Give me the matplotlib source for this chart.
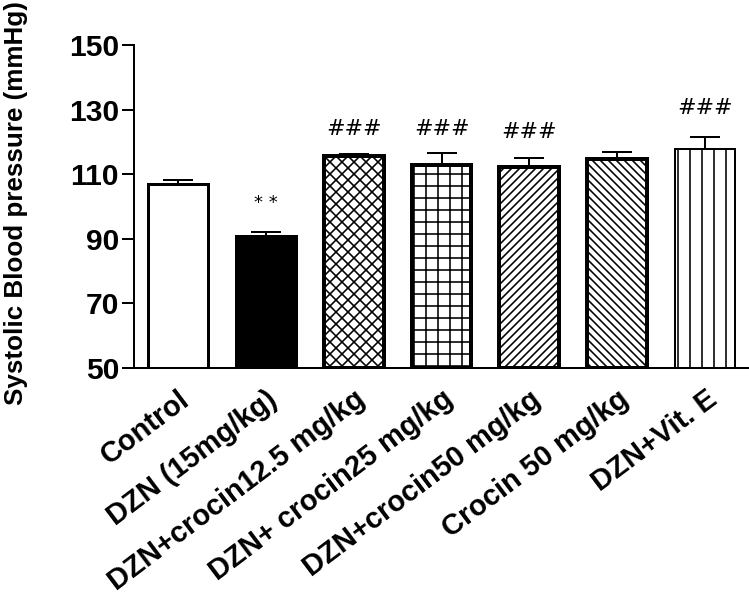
import matplotlib
matplotlib.use("Agg")
import matplotlib.pyplot as plt
import numpy as np

categories = ["Control", "DZN (15mg/kg)", "DZN+crocin12.5 mg/kg", "DZN+ crocin25 mg/kg",
              "DZN+crocin50 mg/kg", "Crocin 50 mg/kg", "DZN+Vit. E"]
means = [107.0, 90.8, 115.6, 112.8, 112.2, 114.7, 117.8]
errors = [1.2, 1.3, 0.5, 3.8, 2.8, 2.2, 3.7]
annotations = ["", "* *", "###", "###", "###", "", "###"]
annot_y = [None, 101.0, 124, 124, 123, None, 130.5]

yticks = [50, 70, 90, 110, 130, 150]

facecolors = ["white", "black", "white", "white", "white", "white", "white"]
hatches = [None, None, "xx", "+", "///", "\\\\\\", "|"]
edge_lw = [3, 3, 4, 4, 4, 4, 2]

plt.rcParams["hatch.linewidth"] = 1.6
plt.rcParams["font.family"] = ["Liberation Sans", "DejaVu Sans"]

DPI = 72
fig = plt.figure(figsize=(749 / DPI, 603 / DPI), dpi=DPI)
ax = fig.add_axes([134 / 749, 1 - 368 / 603, (749 - 134) / 749, (368 - 45) / 603])

x = np.arange(len(categories))
for i in range(len(categories)):
    ax.bar(x[i], means[i] - 50, bottom=50, width=0.68, color=facecolors[i],
           edgecolor="black", linewidth=edge_lw[i], hatch=hatches[i], zorder=2)
    ax.errorbar(x[i], means[i], yerr=[[0], [errors[i]]], fmt="none", ecolor="black",
                elinewidth=2, capsize=15, capthick=2, zorder=1)
    if annotations[i]:
        fs = 18 if "*" in annotations[i] else 22
        ax.text(x[i], annot_y[i], annotations[i], ha="center", va="center",
                fontsize=fs, family="DejaVu Sans", color="black")

ax.set_xlim(-0.5, 6.5)
ax.set_ylim(50, 150)
ax.set_yticks(yticks)
ax.set_yticklabels([str(t) for t in yticks], fontsize=30, fontweight="bold")
ax.set_xticks(x)
ax.set_xticklabels(categories, rotation=37, ha="right", rotation_mode="anchor",
                   fontsize=29, fontweight="bold")
ax.tick_params(axis="x", length=0, pad=17)
ax.tick_params(axis="y", length=12, width=2, pad=3)
ax.set_ylabel("Systolic Blood pressure (mmHg)", fontsize=26, fontweight="bold")
ax.yaxis.set_label_coords(-0.172, 0.51)

for s in ["top", "right"]:
    ax.spines[s].set_visible(False)
for s in ["left", "bottom"]:
    ax.spines[s].set_linewidth(2)

fig.savefig("out.png", dpi=DPI)
